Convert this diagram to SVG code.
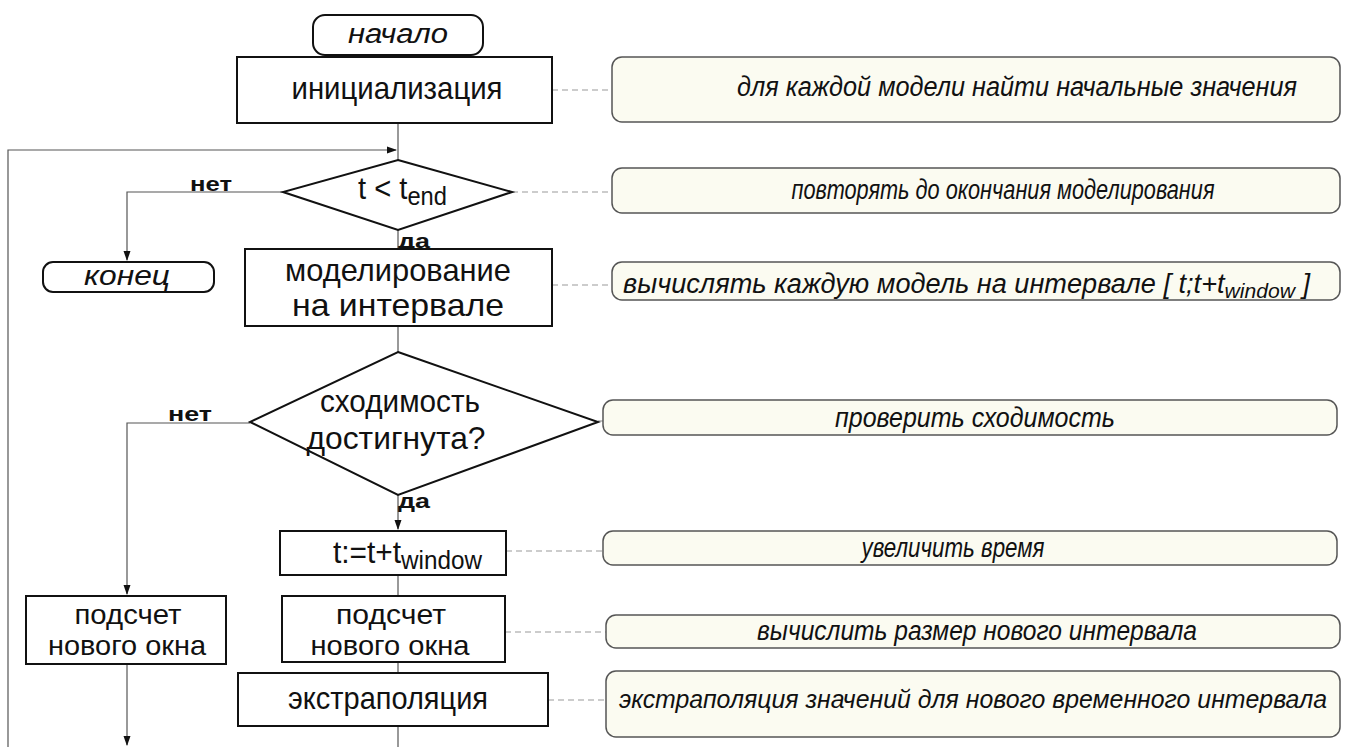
<svg xmlns="http://www.w3.org/2000/svg" width="1346" height="747" viewBox="0 0 1346 747">
<defs>
<style>
.box{fill:#fff;stroke:#111;stroke-width:2}
.ann{fill:#fbfbf1;stroke:#555;stroke-width:1.5}
.t{font-family:"Liberation Sans",Arial,sans-serif;font-size:32px;fill:#111;text-anchor:middle}
.s{font-size:28px}
.i{font-family:"Liberation Sans",Arial,sans-serif;font-size:27px;font-style:italic;fill:#111;text-anchor:middle}
.b{font-family:"Liberation Sans",Arial,sans-serif;font-size:21px;font-weight:bold;fill:#111}
.ln{fill:none;stroke:#555;stroke-width:1.2}
.dl{fill:none;stroke:#999;stroke-width:1.2;stroke-dasharray:6 4}
</style>
<marker id="ar" markerWidth="10" markerHeight="10" refX="9" refY="5" orient="auto" markerUnits="userSpaceOnUse">
<path d="M0,1.5 L10,5 L0,8.5 z" fill="#111"/>
</marker>
</defs>
<rect width="1346" height="747" fill="#fff"/>
<g id="connectors">
<path class="ln" d="M398,55 V57"/>
<path class="ln" d="M8,747 V150 H396" marker-end="url(#ar)"/>
<path class="ln" d="M398,123 V160"/>
<path class="ln" d="M283,192 H127 V260" marker-end="url(#ar)"/>
<path class="ln" d="M398,230 V249"/>
<path class="ln" d="M398,326 V352"/>
<path class="ln" d="M250,423 H127 V594" marker-end="url(#ar)"/>
<path class="ln" d="M398,495 V529" marker-end="url(#ar)"/>
<path class="ln" d="M398,575 V596"/>
<path class="ln" d="M398,662 V673"/>
<path class="ln" d="M398,726 V747"/>
<path class="ln" d="M127,664 V745" marker-end="url(#ar)"/>
<path class="dl" d="M552,90 H612"/>
<path class="dl" d="M512,192 H612"/>
<path class="dl" d="M552,285 H612"/>
<path class="dl" d="M598,421 H603"/>
<path class="dl" d="M506,551 H603"/>
<path class="dl" d="M505,632 H606"/>
<path class="dl" d="M548,700 H606"/>
<text class="b" x="190" y="191" textLength="42" lengthAdjust="spacingAndGlyphs">нет</text>
<text class="b" x="398" y="248" textLength="32" lengthAdjust="spacingAndGlyphs">да</text>
<text class="b" x="168" y="421" textLength="44" lengthAdjust="spacingAndGlyphs">нет</text>
<text class="b" x="398" y="508" textLength="32" lengthAdjust="spacingAndGlyphs">да</text>
</g>
<g id="start">
<rect class="box" x="313" y="15" width="170" height="40" rx="12"/>
<text class="i" x="398" y="43" textLength="100" lengthAdjust="spacingAndGlyphs">начало</text>
</g>
<g id="init">
<rect class="box" x="237" y="57" width="315" height="66"/>
<text class="t" x="397" y="99" textLength="211" lengthAdjust="spacingAndGlyphs">инициализация</text>
</g>
<g id="cond1">
<path class="box" d="M398,160 L512,192 L398,230 L283,192 Z"/>
<text class="t" x="358" y="199" style="text-anchor:start" textLength="89" lengthAdjust="spacingAndGlyphs">t &lt; t<tspan font-size="26" dy="6">end</tspan></text>
</g>
<g id="end">
<rect class="box" x="43" y="262" width="171" height="30" rx="10"/>
<text class="i" x="127" y="285" textLength="86" lengthAdjust="spacingAndGlyphs">конец</text>
</g>
<g id="model">
<rect class="box" x="245" y="249" width="307" height="77"/>
<text class="t" x="398" y="281" textLength="226" lengthAdjust="spacingAndGlyphs">моделирование</text>
<text class="t" x="398" y="316" textLength="212" lengthAdjust="spacingAndGlyphs">на интервале</text>
</g>
<g id="cond2">
<path class="box" d="M398,352 L598,422 L398,495 L250,422 Z"/>
<text class="t" x="400" y="412" textLength="160" lengthAdjust="spacingAndGlyphs">сходимость</text>
<text class="t" x="396" y="449" textLength="179" lengthAdjust="spacingAndGlyphs">достигнута?</text>
</g>
<g id="tinc">
<rect class="box" x="280" y="531" width="226" height="44"/>
<text class="t" x="333" y="563" style="text-anchor:start" textLength="149" lengthAdjust="spacingAndGlyphs">t:=t+t<tspan font-size="26" dy="6">window</tspan></text>
</g>
<g id="newwin-left">
<rect class="box" x="26" y="596" width="200" height="68"/>
<text class="t s" x="128" y="624" textLength="107" lengthAdjust="spacingAndGlyphs">подсчет</text>
<text class="t s" x="127" y="655" textLength="158" lengthAdjust="spacingAndGlyphs">нового окна</text>
</g>
<g id="newwin">
<rect class="box" x="282" y="596" width="223" height="66"/>
<text class="t s" x="391" y="624" textLength="110" lengthAdjust="spacingAndGlyphs">подсчет</text>
<text class="t s" x="390" y="655" textLength="159" lengthAdjust="spacingAndGlyphs">нового окна</text>
</g>
<g id="extrap">
<rect class="box" x="238" y="673" width="310" height="53"/>
<text class="t" x="388" y="709" textLength="200" lengthAdjust="spacingAndGlyphs">экстраполяция</text>
</g>
<g id="ann1">
<rect class="ann" x="612" y="57" width="728" height="65" rx="10"/>
<text class="i" x="1017" y="96" textLength="560" lengthAdjust="spacingAndGlyphs">для каждой модели найти начальные значения</text>
</g>
<g id="ann2">
<rect class="ann" x="612" y="168" width="728" height="45" rx="10"/>
<text class="i" x="1003" y="199" textLength="423" lengthAdjust="spacingAndGlyphs">повторять до окончания моделирования</text>
</g>
<g id="ann3">
<rect class="ann" x="612" y="262" width="728" height="38" rx="10"/>
<text class="i" x="623" y="293" style="text-anchor:start" textLength="687" lengthAdjust="spacingAndGlyphs">вычислять каждую модель на интервале [ t;t+t<tspan font-size="21" dy="5">window</tspan><tspan dy="-5"> ]</tspan></text>
</g>
<g id="ann4">
<rect class="ann" x="603" y="400" width="734" height="35" rx="10"/>
<text class="i" x="975" y="427" textLength="280" lengthAdjust="spacingAndGlyphs">проверить сходимость</text>
</g>
<g id="ann5">
<rect class="ann" x="603" y="531" width="734" height="34" rx="10"/>
<text class="i" x="953" y="557" textLength="183" lengthAdjust="spacingAndGlyphs">увеличить время</text>
</g>
<g id="ann6">
<rect class="ann" x="606" y="615" width="734" height="33" rx="10"/>
<text class="i" x="977" y="640" textLength="440" lengthAdjust="spacingAndGlyphs">вычислить размер нового интервала</text>
</g>
<g id="ann7">
<rect class="ann" x="606" y="671" width="734" height="66" rx="10"/>
<text class="i" x="973" y="708" style="font-size:25px" textLength="708" lengthAdjust="spacingAndGlyphs">экстраполяция значений для нового временного интервала</text>
</g>
</svg>
